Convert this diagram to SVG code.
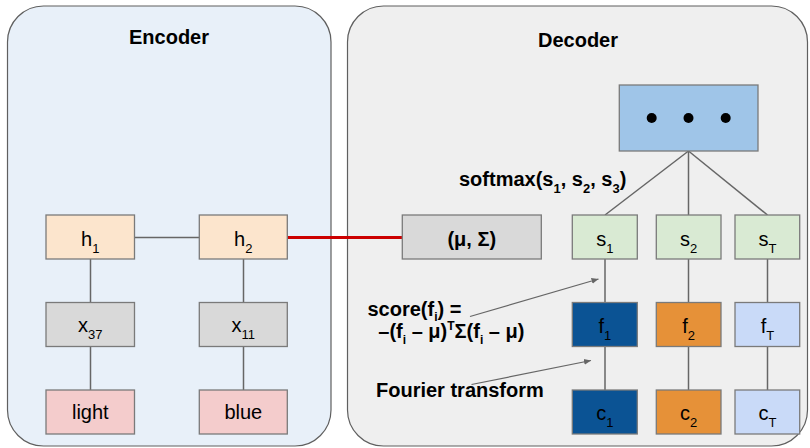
<svg xmlns="http://www.w3.org/2000/svg" width="810" height="448" viewBox="0 0 810 448">
<defs>
<style>
.panel{stroke:#5f5f5f;stroke-width:1.2}
.node{stroke:#7a7a7a;stroke-width:1.3}
.lbl{font-family:"Liberation Sans",Arial,sans-serif;font-size:20px;fill:#000;text-anchor:middle}
.b{font-family:"Liberation Sans",Arial,sans-serif;font-size:20px;font-weight:bold;fill:#000}
.sub{font-size:13px}
.sm{font-size:12px}
.conn{stroke:#666;stroke-width:1.5;fill:none}
</style>
<marker id="ah" markerWidth="8" markerHeight="8" refX="7" refY="4" orient="auto" markerUnits="userSpaceOnUse">
<path d="M0,1 L7,4 L0,7 z" fill="#666"/>
</marker>
</defs>
<rect width="810" height="448" fill="#fff"/>
<g id="encoder">
<rect class="panel" x="7.5" y="6" width="323.5" height="440" rx="36" fill="#e8f0f9"/>
<text class="b" x="169" y="44" text-anchor="middle">Encoder</text>
</g>
<g id="decoder">
<rect class="panel" x="347.5" y="6" width="460" height="440" rx="36" fill="#efefef"/>
<text class="b" x="578" y="47" text-anchor="middle">Decoder</text>
</g>
<g id="connectors">
<line class="conn" x1="134.5" y1="237.5" x2="199.5" y2="237.5"/>
<line class="conn" x1="90.5" y1="259" x2="90.5" y2="302.5"/>
<line class="conn" x1="90.5" y1="346.5" x2="90.5" y2="390"/>
<line class="conn" x1="243.5" y1="259" x2="243.5" y2="302.5"/>
<line class="conn" x1="243.5" y1="346.5" x2="243.5" y2="390"/>
<line x1="287.5" y1="237.5" x2="402.5" y2="237.5" stroke="#cc0000" stroke-width="3"/>
<line class="conn" x1="688.5" y1="151" x2="605" y2="215"/>
<line class="conn" x1="688.5" y1="151" x2="688.5" y2="215"/>
<line class="conn" x1="688.5" y1="151" x2="767.5" y2="215"/>
<line class="conn" x1="605" y1="259" x2="605" y2="302.5"/>
<line class="conn" x1="605" y1="346.5" x2="605" y2="390"/>
<line class="conn" x1="688.5" y1="259" x2="688.5" y2="302.5"/>
<line class="conn" x1="688.5" y1="346.5" x2="688.5" y2="390"/>
<line class="conn" x1="767.5" y1="259" x2="767.5" y2="302.5"/>
<line class="conn" x1="767.5" y1="346.5" x2="767.5" y2="390"/>
<line x1="470" y1="316.5" x2="598.5" y2="279" stroke="#666" stroke-width="1.2" marker-end="url(#ah)"/>
<line x1="471.5" y1="384.5" x2="591" y2="360.5" stroke="#666" stroke-width="1.2" marker-end="url(#ah)"/>
</g>
<g id="h1"><rect class="node" x="46" y="215" width="88.5" height="44" fill="#fce5cd"/><text class="lbl" x="90.3" y="246">h<tspan class="sub" dy="6.5">1</tspan></text></g>
<g id="h2"><rect class="node" x="199.3" y="215" width="88" height="44" fill="#fce5cd"/><text class="lbl" x="243.3" y="246">h<tspan class="sub" dy="6.5">2</tspan></text></g>
<g id="x37"><rect class="node" x="46" y="302.5" width="88.5" height="44" fill="#d9d9d9"/><text class="lbl" x="90.3" y="332">x<tspan class="sub" dy="7">37</tspan></text></g>
<g id="x11"><rect class="node" x="199.3" y="302.5" width="88" height="44" fill="#d9d9d9"/><text class="lbl" x="243.3" y="332">x<tspan class="sub" dy="7">11</tspan></text></g>
<g id="light"><rect class="node" x="46" y="390" width="88.5" height="44" fill="#f4cccc"/><text class="lbl" x="90.3" y="419">light</text></g>
<g id="blue"><rect class="node" x="199.3" y="390" width="88" height="44" fill="#f4cccc"/><text class="lbl" x="243.3" y="419">blue</text></g>
<g id="musigma"><rect class="node" x="402.3" y="215" width="139" height="44" fill="#d9d9d9"/><text class="b" x="471.8" y="245.5" text-anchor="middle">(μ, Σ)</text></g>
<g id="dots"><rect class="node" x="619.3" y="85" width="138.7" height="66" fill="#9fc5e8"/><circle cx="651.7" cy="118" r="5"/><circle cx="688.5" cy="118" r="5"/><circle cx="725.7" cy="118" r="5"/></g>
<g id="s1"><rect class="node" x="572.3" y="215" width="65" height="44" fill="#d9ead3"/><text class="lbl" x="604.8" y="246">s<tspan class="sub" dy="6.5">1</tspan></text></g>
<g id="s2"><rect class="node" x="656.3" y="215" width="64.7" height="44" fill="#d9ead3"/><text class="lbl" x="688.7" y="246">s<tspan class="sub" dy="6.5">2</tspan></text></g>
<g id="sT"><rect class="node" x="735" y="215" width="64.7" height="44" fill="#d9ead3"/><text class="lbl" x="767.4" y="246">s<tspan class="sub" dy="6.5">T</tspan></text></g>
<g id="f1"><rect class="node" x="572.3" y="302.5" width="65" height="44" fill="#0b5394"/><text class="lbl" x="604.8" y="333">f<tspan class="sub" dy="6.5">1</tspan></text></g>
<g id="f2"><rect class="node" x="656.3" y="302.5" width="64.7" height="44" fill="#e69138"/><text class="lbl" x="688.7" y="333">f<tspan class="sub" dy="6.5">2</tspan></text></g>
<g id="fT"><rect class="node" x="735" y="302.5" width="64.7" height="44" fill="#c9daf8"/><text class="lbl" x="767.4" y="333">f<tspan class="sub" dy="6.5">T</tspan></text></g>
<g id="c1"><rect class="node" x="572.3" y="390" width="65" height="44" fill="#0b5394"/><text class="lbl" x="604.8" y="420">c<tspan class="sub" dy="6.5">1</tspan></text></g>
<g id="c2"><rect class="node" x="656.3" y="390" width="64.7" height="44" fill="#e69138"/><text class="lbl" x="688.7" y="420">c<tspan class="sub" dy="6.5">2</tspan></text></g>
<g id="cT"><rect class="node" x="735" y="390" width="64.7" height="44" fill="#c9daf8"/><text class="lbl" x="767.4" y="420">c<tspan class="sub" dy="6.5">T</tspan></text></g>
<g id="labels">
<text class="b" x="459" y="186">softmax(s<tspan class="sub" dy="6.5">1</tspan><tspan dy="-6.5">, s</tspan><tspan class="sub" dy="6.5">2</tspan><tspan dy="-6.5">, s</tspan><tspan class="sub" dy="6.5">3</tspan><tspan dy="-6.5">)</tspan></text>
<text class="b" x="367.5" y="315.5">score(f<tspan class="sm" dy="5">i</tspan><tspan dy="-5">) =</tspan></text>
<text class="b" x="378.3" y="338">–(f<tspan class="sm" dy="5.5">i</tspan><tspan dy="-5.5"> – μ)</tspan><tspan class="sm" dy="-8">T</tspan><tspan dy="8">Σ(f</tspan><tspan class="sm" dy="5.5">i</tspan><tspan dy="-5.5"> – μ)</tspan></text>
<text class="b" x="376" y="397">Fourier transform</text>
</g>
</svg>
